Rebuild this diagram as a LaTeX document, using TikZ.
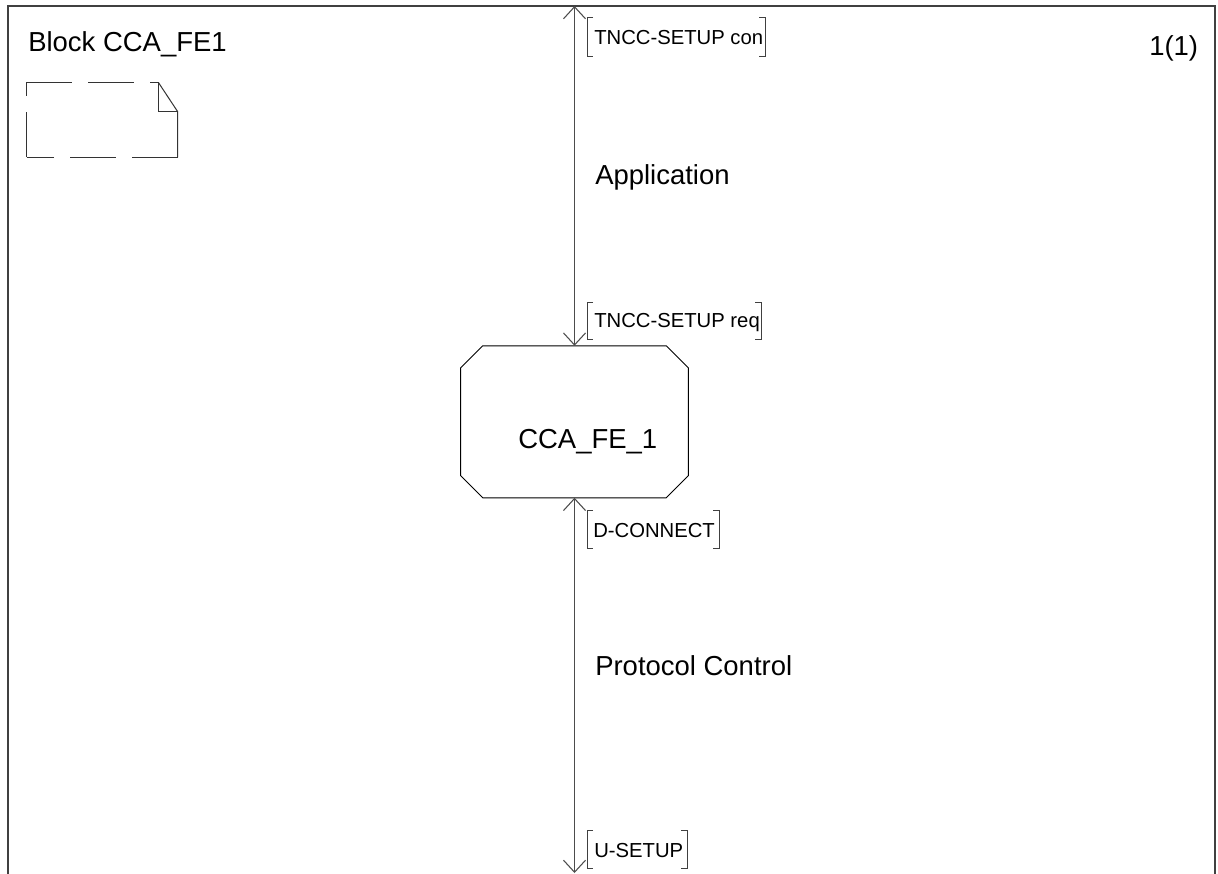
\documentclass[tikz,border=0pt]{standalone}
\usepackage{fontspec}
\setmainfont{Liberation Sans}
\usetikzlibrary{arrows.meta}
\begin{document}
\begin{tikzpicture}[x=0.75pt,y=-0.75pt,
  frame/.style={draw=black!75,line width=0.8pt},
  conn/.style={draw=black!70,line width=0.8pt,{Straight Barb[length=9pt,width=16.5pt]}-{Straight Barb[length=9pt,width=16.5pt]}},
  big/.style={font=\fontsize{20.6pt}{24pt}\selectfont,inner sep=0pt,anchor=base west},
  small/.style={font=\fontsize{15.2pt}{18pt}\selectfont,inner sep=0pt,anchor=base west},
  brk/.style={draw=black!75,line width=0.75pt},
  proc/.style={draw=black,line width=0.75pt},
  notedash/.style={draw=black!80,line width=0.75pt,dash pattern=on 34.3pt off 12pt},
  notesolid/.style={draw=black!80,line width=0.75pt}]
\useasboundingbox (0,0) rectangle (1218,874);
% frame
\draw[frame] (8,874) -- (8,6) -- (1215,6) -- (1215,874);
% titles
\node[big] (title) at (28,51.5) {Block CCA\_FE1};
\node[big] (page) at (1149,55.5) {1(1)};
% note icon
\draw[notedash] (26.7,82.3) -- (158.3,82.3);
\draw[notedash] (26.7,157.3) -- (26.7,82.3);
\draw[notedash] (177.7,157.3) -- (26.7,157.3);
\draw[notesolid] (158.3,82.3) -- (177.7,111.7) -- (177.7,157.3);
\draw[notesolid] (158.3,82.3) -- (158.3,111.7) -- (177.7,111.7);
% process octagon
\node[draw=none,minimum width=170.25pt,minimum height=113.6pt,inner sep=0pt] (fe) at (574.5,421.75) {};
\draw[proc] ([xshift=16.5pt]fe.north west) -- ([xshift=-16.5pt]fe.north east) -- ([yshift=-16.5pt]fe.north east)
  -- ([yshift=16.5pt]fe.south east) -- ([xshift=-16.5pt]fe.south east) -- ([xshift=16.5pt]fe.south west)
  -- ([yshift=16.5pt]fe.south west) -- ([yshift=-16.5pt]fe.north west) -- cycle;
\node[big] (fename) at (518,448) {CCA\_FE\_1};
% connectors
\coordinate (ctop) at (574.5,6);
\coordinate (cbot) at (574.5,873);
\draw[conn] (ctop) -- (fe.north);
\draw[conn] (fe.south) -- (cbot);
% channel names
\node[big] (app) at (595,185) {Application};
\node[big] (pc) at (595,675.5) {Protocol Control};
% signal lists
\node[small] (s1) at (594,44.5) {TNCC-SETUP con};
\draw[brk] (593,18) -- (587,18) -- (587,57) -- (593,57);
\draw[brk] (759,18) -- (765,18) -- (765,57) -- (759,57);
\node[small] (s2) at (594,327) {TNCC-SETUP req};
\draw[brk] (593,302) -- (587,302) -- (587,339) -- (593,339);
\draw[brk] (755,302) -- (761,302) -- (761,339) -- (755,339);
\node[small] (s3) at (593,537) {D-CONNECT};
\draw[brk] (593,510) -- (587,510) -- (587,548) -- (593,548);
\draw[brk] (713,510) -- (719,510) -- (719,548) -- (713,548);
\node[small] (s4) at (594,857.5) {U-SETUP};
\draw[brk] (593,830) -- (587,830) -- (587,868) -- (593,868);
\draw[brk] (681,830) -- (687,830) -- (687,868) -- (681,868);
\end{tikzpicture}
\end{document}
